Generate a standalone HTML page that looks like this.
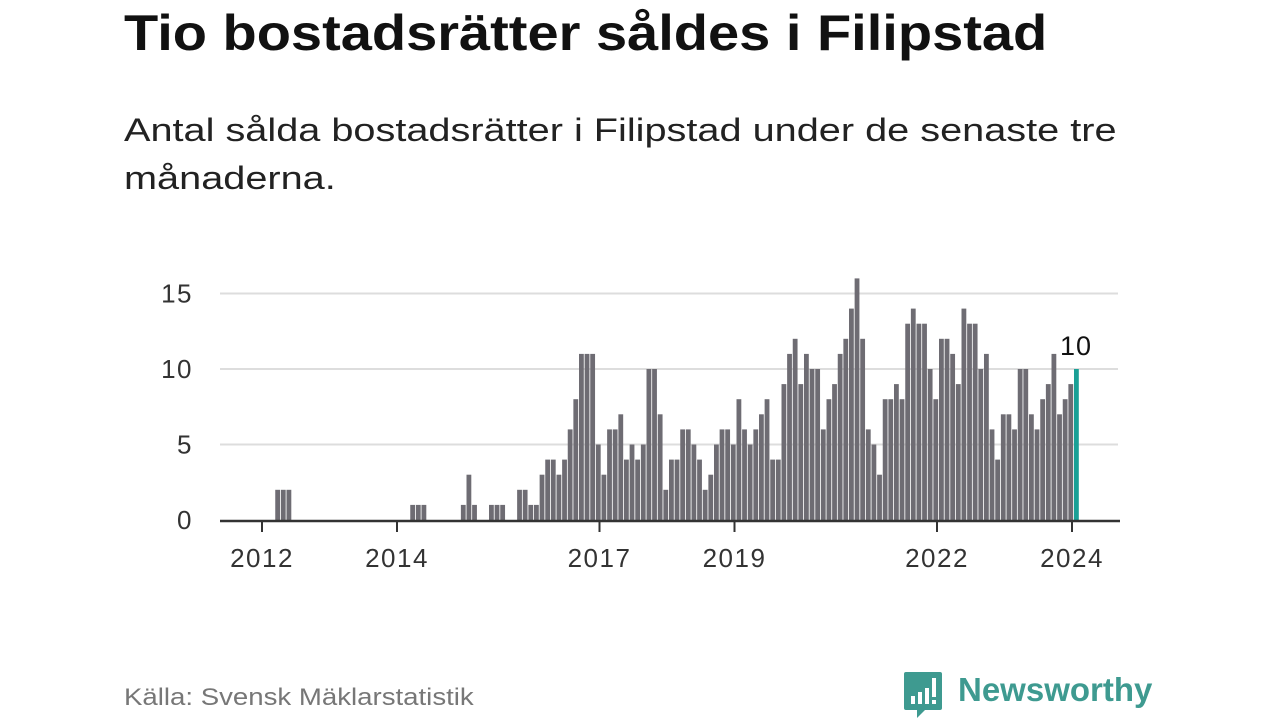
<!DOCTYPE html>
<html><head><meta charset="utf-8"><style>
body{margin:0;width:1280px;height:720px;background:#fff;overflow:hidden;font-family:"Liberation Sans",sans-serif;}
#title{position:absolute;left:124px;top:4px;font-size:50px;font-weight:bold;color:#111;margin:0;white-space:nowrap;transform:scaleX(1.12);transform-origin:0 0}
#sub{position:absolute;left:124px;top:106px;font-size:32px;line-height:48px;color:#222;margin:0;white-space:nowrap;transform:scaleX(1.24);transform-origin:0 0}
#src{position:absolute;left:124px;top:684px;font-size:24px;color:#777;white-space:nowrap;transform:scaleX(1.15);transform-origin:0 0}
#logo{position:absolute;left:903px;top:670px;width:260px;height:50px}
svg{position:absolute;left:0;top:0}
</style></head><body>
<h1 id="title">Tio bostadsrätter såldes i Filipstad</h1>
<p id="sub">Antal sålda bostadsrätter i Filipstad under de senaste tre<br>månaderna.</p>
<svg id="chart" width="1280" height="720"></svg>
<div id="src">Källa: Svensk Mäklarstatistik</div>
<div id="logo">
<svg width="40" height="48" viewBox="0 0 40 48">
<path d="M3 2h34a2 2 0 0 1 2 2v34a2 2 0 0 1-2 2H22l-8 8v-8H3a2 2 0 0 1-2-2V4a2 2 0 0 1 2-2z" fill="#3e9a90"/>
<rect x="8" y="26" width="4" height="8" fill="#fff"/><rect x="15" y="22" width="4" height="12" fill="#fff"/><rect x="22" y="18" width="4" height="16" fill="#fff"/><rect x="29" y="8" width="4" height="19" fill="#fff"/><rect x="29" y="30" width="4" height="4" fill="#fff"/>
</svg>
<span style="position:absolute;left:55px;top:1px;font-size:33px;font-weight:bold;color:#3e9a90">Newsworthy</span>
</div>
<script>
const startYear = 2012; // first value = January 2012
const values = [
0,0,2,2,2,0,0,0,0,0,0,0,
0,0,0,0,0,0,0,0,0,0,0,0,
0,0,1,1,1,0,0,0,0,0,0,1,
3,1,0,0,1,1,1,0,0,2,2,1,
1,3,4,4,3,4,6,8,11,11,11,5,
3,6,6,7,4,5,4,5,10,10,7,2,
4,4,6,6,5,4,2,3,5,6,6,5,
8,6,5,6,7,8,4,4,9,11,12,9,
11,10,10,6,8,9,11,12,14,16,12,6,
5,3,8,8,9,8,13,14,13,13,10,8,
12,12,11,9,14,13,13,10,11,6,4,7,
7,6,10,10,7,6,8,9,11,7,8,9,
10];
const yTicks = [0,5,10,15];
const xTickYears = [2012,2014,2017,2019,2022,2024];

const NS='http://www.w3.org/2000/svg';
const svg=document.getElementById('chart');
const X0=220, X1=1120, monthW=5.625, originX=264;
const Y0=520, unit=15.1;
const xMonth = m => originX + m*monthW;
const yVal = v => Y0 - v*unit;
function mk(tag, attrs){const e=document.createElementNS(NS,tag);for(const k in attrs)e.setAttribute(k,attrs[k]);svg.appendChild(e);return e;}

yTicks.forEach(t=>{
  if(t>0){const g=mk('line',{x1:X0,x2:1118,y1:yVal(t),y2:yVal(t),stroke:'#dddddd','stroke-width':2});
  
  }
  const l=mk('text',{x:193,y:yVal(t)+9,'text-anchor':'end','font-size':26,'letter-spacing':1.5,fill:'#333','font-family':'Liberation Sans, sans-serif'});
  l.textContent=t;
  
  
});

values.forEach((v,i)=>{
  if(v<=0) return;
  const last = i===values.length-1;
  const r=mk('rect',{x:xMonth(i),y:yVal(v),width:4.8,height:v*unit,fill:last?'#1aa096':'#6e6c73'});
  
  
});

const lastI=values.length-1;
const vl=mk('text',{x:xMonth(lastI)+2,y:yVal(values[lastI])-14,'text-anchor':'middle','font-size':27,'letter-spacing':1,fill:'#111','font-family':'Liberation Sans, sans-serif'});
vl.textContent=values[lastI];



const ax=mk('line',{x1:X0,x2:X1,y1:Y0+1,y2:Y0+1,stroke:'#333','stroke-width':2.5});



xTickYears.forEach(yr=>{
  const x=xMonth((yr-startYear)*12)-2;
  const t=mk('line',{x1:x,x2:x,y1:Y0,y2:Y0+12,stroke:'#333','stroke-width':2});
  
  
  const l=mk('text',{x:x,y:567,'text-anchor':'middle','font-size':26,'letter-spacing':1.5,fill:'#333','font-family':'Liberation Sans, sans-serif'});
  l.textContent=yr;
  
  
});
</script>
</body></html>
